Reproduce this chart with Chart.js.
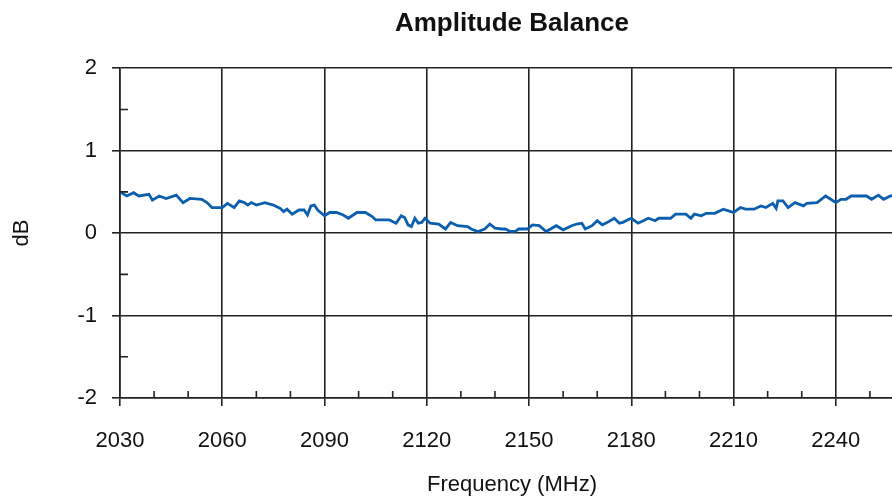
<!DOCTYPE html>
<html>
<head>
<meta charset="utf-8">
<script src="https://cdn.jsdelivr.net/npm/chart.js@4/dist/chart.umd.min.js"></script>
<style>
  html, body { margin: 0; padding: 0; background: #fff; overflow: hidden; }
  #wrap { width: 904px; height: 496px; }
</style>
</head>
<body>
<div id="wrap"><canvas id="myChart"></canvas></div>
<script>
// frequency (MHz) and balance (dB)
const freqs = [2030, 2032, 2034, 2035.5, 2038.5, 2039.5, 2041.5, 2043.5, 2046.5, 2048.5,
  2050.5, 2054, 2055.5, 2057, 2060, 2061.5, 2063.5, 2065, 2066.5, 2067.5,
  2068.5, 2070, 2072.5, 2075, 2077, 2078, 2079, 2080.5, 2082.5, 2084,
  2085, 2086, 2087, 2088, 2090, 2091.5, 2093.5, 2095.5, 2097, 2099.5,
  2102, 2104, 2105, 2109, 2111, 2112.5, 2113.5, 2114.5, 2115.5, 2116.5,
  2117.5, 2118.5, 2119.5, 2121, 2123.5, 2125.5, 2127, 2129, 2132, 2133,
  2135, 2137, 2138.5, 2140, 2142, 2143, 2144.5, 2146, 2147, 2149.5,
  2151, 2153, 2155, 2158, 2160, 2162.5, 2164, 2165.5, 2166.5, 2168.5,
  2170, 2171.5, 2173, 2175, 2176.5, 2177.5, 2179.5, 2180, 2182, 2185,
  2187, 2188, 2191.5, 2193, 2196, 2197.5, 2198.5, 2200.5, 2202, 2204.5,
  2207, 2208.5, 2210, 2212, 2213.5, 2216, 2218, 2219.5, 2221.5, 2222.5,
  2223, 2224.5, 2226, 2228, 2230.5, 2231.5, 2234.5, 2237, 2238.5, 2240,
  2241.5, 2243, 2244.5, 2249, 2250.5, 2252.5, 2254, 2256.5];
const balance = [0.50, 0.45, 0.49, 0.45, 0.47, 0.40, 0.45, 0.42, 0.46, 0.37,
  0.42, 0.41, 0.37, 0.31, 0.31, 0.36, 0.31, 0.39, 0.37, 0.34,
  0.37, 0.34, 0.37, 0.34, 0.30, 0.26, 0.29, 0.23, 0.28, 0.28,
  0.22, 0.33, 0.34, 0.28, 0.21, 0.25, 0.25, 0.22, 0.18, 0.25,
  0.25, 0.20, 0.16, 0.16, 0.12, 0.21, 0.19, 0.10, 0.08, 0.18,
  0.12, 0.13, 0.18, 0.12, 0.11, 0.05, 0.13, 0.09, 0.08, 0.05,
  0.02, 0.05, 0.11, 0.06, 0.05, 0.05, 0.02, 0.02, 0.05, 0.05,
  0.10, 0.09, 0.02, 0.09, 0.04, 0.09, 0.11, 0.12, 0.05, 0.09,
  0.15, 0.10, 0.13, 0.18, 0.12, 0.13, 0.17, 0.18, 0.12, 0.18,
  0.15, 0.18, 0.18, 0.23, 0.23, 0.18, 0.23, 0.21, 0.24, 0.24,
  0.29, 0.27, 0.25, 0.31, 0.29, 0.29, 0.33, 0.31, 0.36, 0.30,
  0.39, 0.39, 0.31, 0.37, 0.33, 0.36, 0.37, 0.45, 0.41, 0.37,
  0.41, 0.41, 0.45, 0.45, 0.41, 0.46, 0.41, 0.46];

const xTicks = [2030, 2060, 2090, 2120, 2150, 2180, 2210, 2240];
const xMinor = [2040, 2050, 2070, 2080, 2100, 2110, 2130, 2140, 2160, 2170, 2190, 2200, 2220, 2230, 2250];
const yTicks = [-2, -1, 0, 1, 2];
const yMinor = [-1.5, -0.5, 0.5, 1.5];

const gridColor = "#222";
const font = "'Liberation Sans', Arial, Helvetica, sans-serif";

// short inside ticks between the major lines
const minorTicks = {
  id: "minorTicks",
  afterDraw(chart) {
    const {ctx, chartArea, scales} = chart;
    ctx.save();
    ctx.strokeStyle = gridColor;
    ctx.lineWidth = 1.6;
    ctx.beginPath();
    yMinor.forEach((v) => {
      const y = scales.y.getPixelForValue(v);
      ctx.moveTo(chartArea.left, y);
      ctx.lineTo(chartArea.left + 8, y);
    });
    xMinor.forEach((v) => {
      const x = scales.x.getPixelForValue(v);
      ctx.moveTo(x, chartArea.bottom);
      ctx.lineTo(x, chartArea.bottom - 7);
    });
    ctx.stroke();
    ctx.restore();
  }
};

const chart = document.getElementById("myChart");

const myChart = new Chart(chart, {
  type: "line",
  data: {
    datasets: [{
      label: "Amplitude Balance",
      data: freqs.map((f, i) => ({x: f, y: balance[i]})),
      borderColor: "#0b5fae",
      borderWidth: 2.8,
      pointRadius: 0,
      tension: 0,
      fill: false
    }]
  },
  options: {
    responsive: true,
    maintainAspectRatio: false,
    animation: false,
    layout: {padding: 0},
    plugins: {
      legend: {display: false},
      tooltip: {enabled: false},
      title: {
        display: true,
        fullSize: false,
        text: "Amplitude Balance",
        color: "#111",
        font: {family: font, size: 26, weight: "bold"},
        padding: {top: 8, bottom: 29}
      }
    },
    scales: {
      x: {
        type: "linear",
        min: 2030,
        max: 2260,
        afterBuildTicks: (scale) => { scale.ticks = xTicks.map((v) => ({value: v})); },
        afterFit: (scale) => { scale.height = 98; },
        grid: {color: gridColor, lineWidth: 1.6, tickLength: 8},
        border: {color: gridColor, width: 1.6},
        ticks: {color: "#111", font: {family: font, size: 22}, padding: 22, maxRotation: 0,
          callback: (v) => String(v)},
        title: {display: true, text: "Frequency (MHz)", color: "#111",
          font: {family: font, size: 22, lineHeight: 1.0}, padding: {top: 0, bottom: 0}}
      },
      y: {
        min: -2,
        max: 2,
        afterBuildTicks: (scale) => { scale.ticks = yTicks.map((v) => ({value: v})); },
        afterFit: (scale) => { scale.width = 120; },
        grid: {color: gridColor, lineWidth: 1.6, tickLength: 8},
        border: {color: gridColor, width: 1.6},
        ticks: {color: "#111", font: {family: font, size: 22}, padding: 15},
        title: {display: true, text: "dB", color: "#111", font: {family: font, size: 22}, padding: {top: 9, bottom: 0}}
      }
    }
  },
  plugins: [minorTicks]
});
</script>
</body>
</html>
